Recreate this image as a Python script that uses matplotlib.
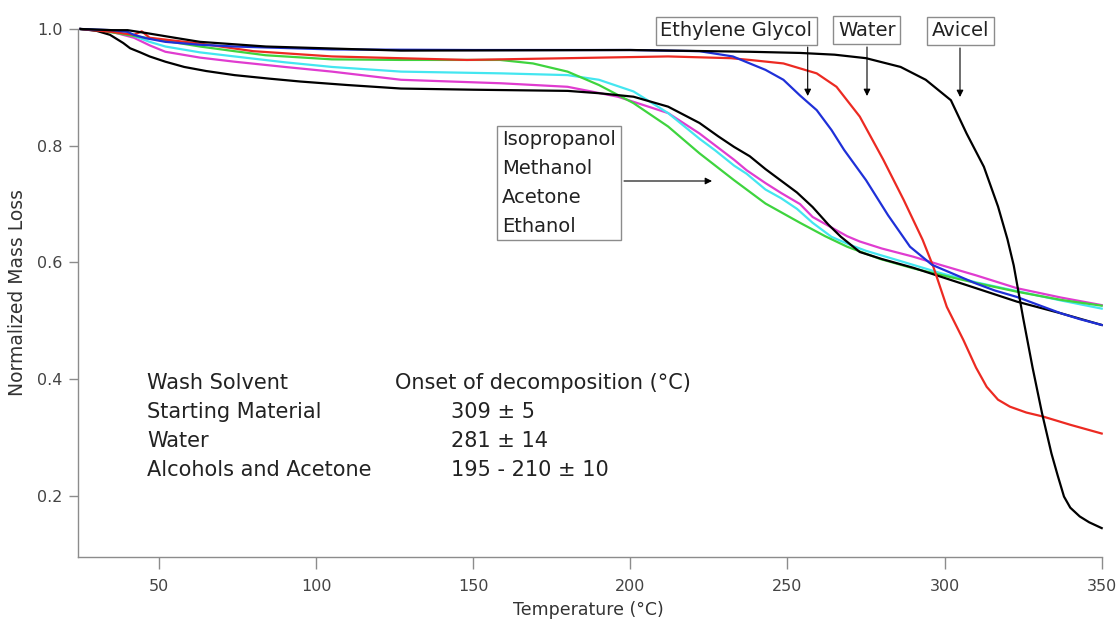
import numpy as np
import matplotlib
matplotlib.use("Agg")
import matplotlib.pyplot as plt

plt.rcParams['font.family'] = ['DejaVu Sans']

# avicel (starting material)
avicel_x = [25, 35, 40, 46, 55, 63, 84, 127, 200, 238, 254, 265, 275, 286, 294, 302, 307,
            312.5, 317, 320, 322, 325, 328, 331, 334, 336, 338, 340, 343, 346, 350]
avicel_y = [1.0, 0.998, 0.998, 0.993, 0.985, 0.978, 0.970, 0.963, 0.964, 0.961, 0.959, 0.956,
            0.950, 0.935, 0.913, 0.878, 0.821, 0.764, 0.696, 0.640, 0.595, 0.505, 0.420, 0.342,
            0.273, 0.235, 0.199, 0.180, 0.165, 0.155, 0.145]

# ethylene glycol
eg_x = [25, 35, 40, 42, 46, 52, 63, 74, 105, 150, 200, 222, 232.6, 238, 243, 248.7, 254, 259.3,
        264, 268, 275, 282, 289, 296, 303, 310, 316, 323, 330, 337, 343, 350]
eg_y = [1.0, 0.998, 0.995, 0.990, 0.984, 0.978, 0.973, 0.970, 0.965, 0.964, 0.964, 0.962, 0.953,
        0.941, 0.930, 0.913, 0.886, 0.861, 0.827, 0.793, 0.741, 0.681, 0.627, 0.596, 0.580, 0.564,
        0.552, 0.541, 0.527, 0.513, 0.503, 0.493]

# water
water_x = [25, 35, 42, 44.5, 47, 55, 63, 80, 105, 148, 180, 212, 232, 238, 248.7, 259.3, 265.6,
           273, 280.5, 287, 293, 296.4, 300.7, 306, 310, 313.4, 317, 320.8, 326, 331.4, 340, 350]
water_y = [1.0, 0.995, 0.990, 0.996, 0.985, 0.980, 0.975, 0.962, 0.953, 0.947, 0.950, 0.953,
           0.950, 0.947, 0.941, 0.924, 0.901, 0.850, 0.776, 0.707, 0.639, 0.593, 0.524, 0.467,
           0.420, 0.387, 0.365, 0.353, 0.343, 0.336, 0.322, 0.307]

# ethanol
etoh_x = [25, 30, 36.5, 42, 47, 55, 63, 74, 84, 105, 127, 158.5, 169, 180, 190, 201, 212, 222,
          233, 243, 254, 262, 269, 279.5, 290, 298.6, 310, 323, 337, 350]
etoh_y = [1.0, 0.998, 0.993, 0.988, 0.984, 0.977, 0.970, 0.962, 0.955, 0.948, 0.947, 0.947,
          0.941, 0.927, 0.904, 0.873, 0.833, 0.787, 0.741, 0.701, 0.668, 0.645, 0.627, 0.606,
          0.590, 0.579, 0.565, 0.550, 0.536, 0.526]

# acetone
acet_x = [25, 35, 42, 47, 52, 63, 74, 90, 105, 127, 159, 180, 190, 201, 212, 222, 227, 233, 237,
          243, 248, 253, 258, 264, 270, 275, 285, 298.6, 310, 323, 337, 350]
acet_y = [1.0, 0.996, 0.988, 0.978, 0.970, 0.960, 0.953, 0.943, 0.935, 0.927, 0.924, 0.921,
          0.913, 0.893, 0.856, 0.812, 0.792, 0.766, 0.752, 0.725, 0.710, 0.692, 0.668, 0.644,
          0.630, 0.620, 0.604, 0.582, 0.566, 0.551, 0.535, 0.521]

# methanol
meoh_x = [25, 35, 42, 47, 52, 63, 74, 90, 105, 127, 159, 180, 196, 212, 222, 233, 237, 243, 248,
          254, 258, 264, 269, 273, 280, 290, 298.6, 310, 323, 337, 350]
meoh_y = [1.0, 0.995, 0.985, 0.972, 0.961, 0.951, 0.944, 0.935, 0.927, 0.913, 0.907, 0.901,
          0.884, 0.856, 0.821, 0.776, 0.758, 0.736, 0.719, 0.700, 0.678, 0.660, 0.645, 0.636,
          0.624, 0.610, 0.596, 0.578, 0.556, 0.540, 0.527]

# isopropanol
ipa_x = [25, 30, 34.4, 38.6, 40.8, 44, 47, 52, 58, 65, 74, 85, 95, 110, 127, 150, 180, 190, 201,
         212, 222, 228, 233, 238, 243, 248, 253, 258, 263, 267, 273, 280, 290, 298.6, 310, 323,
         337, 350]
ipa_y = [1.0, 0.997, 0.990, 0.976, 0.967, 0.960, 0.953, 0.944, 0.935, 0.928, 0.921, 0.915, 0.910,
         0.904, 0.898, 0.896, 0.894, 0.890, 0.884, 0.867, 0.839, 0.816, 0.798, 0.782, 0.760,
         0.740, 0.720, 0.695, 0.665, 0.644, 0.618, 0.606, 0.591, 0.576, 0.556, 0.533, 0.513,
         0.493]

table_solvents = ["Wash Solvent", "Starting Material", "Water", "Alcohols and Acetone"]
table_onset = ["Onset of decomposition (°C)", "309 ± 5", "281 ± 14", "195 - 210 ± 10"]

W, H = 1120, 623
fig = plt.figure(figsize=(W / 100, H / 100), dpi=100)
ax = fig.add_axes([78.3 / W, 1 - 557 / H, (1101.7 - 78.3) / W, (557 - 29) / H])

lw = 1.6
ax.plot(meoh_x, meoh_y, color='#e03cd0', lw=lw, clip_on=False)
ax.plot(acet_x, acet_y, color='#44e6f0', lw=lw, clip_on=False)
ax.plot(etoh_x, etoh_y, color='#3ed43e', lw=lw, clip_on=False)
ax.plot(ipa_x, ipa_y, color='black', lw=lw, clip_on=False)
ax.plot(water_x, water_y, color='#ec2a22', lw=lw, clip_on=False)
ax.plot(eg_x, eg_y, color='#1f30d8', lw=lw, clip_on=False)
ax.plot(avicel_x, avicel_y, color='black', lw=lw, clip_on=False)

ax.set_xlim(24.3, 350)
ax.set_ylim(0.0955, 1.0)
ax.set_xticks([50, 100, 150, 200, 250, 300, 350])
ax.set_yticks([0.2, 0.4, 0.6, 0.8, 1.0])
ax.set_yticklabels(["0.2", "0.4", "0.6", "0.8", "1.0"])
for s in ['top', 'right']:
    ax.spines[s].set_visible(False)
for s in ['left', 'bottom']:
    ax.spines[s].set_color('#8c8c8c')
    ax.spines[s].set_linewidth(1.0)
ax.tick_params(direction='out', width=1, color='#8c8c8c', labelcolor='#444444', labelsize=11.5)
ax.tick_params(axis='x', length=8.5, pad=7)
ax.tick_params(axis='y', length=6.5, pad=5)

fig.text(18 / W, 1 - 293 / H, "Normalized Mass Loss", rotation=90, ha='center', va='center',
         fontsize=13.5, color='#333333')
fig.text(588 / W, 1 - 610 / H, "Temperature (°C)", ha='center', va='center',
         fontsize=12.5, color='#333333')

# onset table
for i in range(len(table_solvents)):
    yy = 1 - (383 + 29 * i) / H
    fig.text(147 / W, yy, table_solvents[i], ha='left', va='center', fontsize=15, color='#222222')
    x2 = 395 if i == 0 else 451
    fig.text(x2 / W, yy, table_onset[i], ha='left', va='center', fontsize=15, color='#222222')

box = dict(boxstyle='square,pad=0.25', fc='white', ec='#8c8c8c', lw=1)


def px(x, y):
    return (x, H - y)


fig.text(736.5 / W, 1 - 31 / H, "Ethylene Glycol", ha='center', va='center', fontsize=14,
         color='#222222', bbox=box)
fig.text(866.7 / W, 1 - 30 / H, "Water", ha='center', va='center', fontsize=14,
         color='#222222', bbox=box)
fig.text(960.5 / W, 1 - 31 / H, "Avicel", ha='center', va='center', fontsize=14,
         color='#222222', bbox=box)
fig.text(502 / W, 1 - 183 / H, "Isopropanol\nMethanol\nAcetone\nEthanol", ha='left', va='center',
         fontsize=14, color='#222222', linespacing=1.65, bbox=box)

arrow = dict(arrowstyle='-|>', color='black', lw=0.8, mutation_scale=10, shrinkA=0, shrinkB=0)
for (x0, y0, x1, y1) in [(807.7, 47, 807.7, 96), (867, 47, 867, 96), (960, 48, 960, 97),
                         (624, 181, 712, 181)]:
    ax.annotate('', xy=px(x1, y1), xytext=px(x0, y0), xycoords='figure pixels',
                textcoords='figure pixels', arrowprops=arrow)

fig.savefig('out.png', dpi=100)
